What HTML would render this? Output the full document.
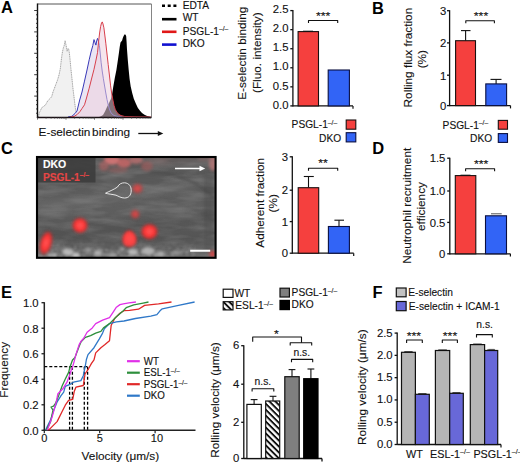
<!DOCTYPE html>
<html><head><meta charset="utf-8"><style>html,body{margin:0;padding:0;background:#fff;}svg{display:block;}</style></head><body>
<svg width="520" height="464" viewBox="0 0 520 464" font-family='"Liberation Sans", sans-serif'>
<rect width="520" height="464" fill="#fff"/>
<text transform="translate(1,13.3) scale(1.03,1)" font-size="16" font-weight="bold" fill="#000">A</text>
<text transform="translate(372,13.6) scale(1.03,1)" font-size="16" font-weight="bold" fill="#000">B</text>
<text transform="translate(1,153.7) scale(1.03,1)" font-size="16" font-weight="bold" fill="#000">C</text>
<text transform="translate(372.3,154) scale(1.03,1)" font-size="16" font-weight="bold" fill="#000">D</text>
<text transform="translate(1,298) scale(1.03,1)" font-size="16" font-weight="bold" fill="#000">E</text>
<text transform="translate(372.5,298) scale(1.03,1)" font-size="16" font-weight="bold" fill="#000">F</text>
<polygon points="38.5,117.0 39.5,112.0 40.0,111.4 41.9,107.5 43.5,106.5 45.8,104.6 47.0,102.0 48.7,99.8 50.0,98.5 51.6,96.9 53.0,92.0 54.5,88.1 56.0,84.0 57.4,80.4 59.0,75.0 60.3,68.8 61.3,60.0 62.2,53.3 63.3,48.0 64.2,45.5 65.1,40.7 66.1,45.5 67.1,51.3 68.0,48.4 68.7,49.0 69.4,53.3 70.1,60.0 70.9,68.8 71.9,78.0 72.9,88.1 73.9,96.0 74.8,103.6 75.8,111.4 76.8,115.3 78.0,117.0" fill="#f1f1f1" stroke="none"/>
<polyline points="38.5,117.0 39.5,112.0 40.0,111.4 41.9,107.5 43.5,106.5 45.8,104.6 47.0,102.0 48.7,99.8 50.0,98.5 51.6,96.9 53.0,92.0 54.5,88.1 56.0,84.0 57.4,80.4 59.0,75.0 60.3,68.8 61.3,60.0 62.2,53.3 63.3,48.0 64.2,45.5 65.1,40.7 66.1,45.5 67.1,51.3 68.0,48.4 68.7,49.0 69.4,53.3 70.1,60.0 70.9,68.8 71.9,78.0 72.9,88.1 73.9,96.0 74.8,103.6 75.8,111.4 76.8,115.3 78.0,117.0" fill="none" stroke="#9a9a9a" stroke-width="0.9" stroke-dasharray="1.2,0.6"/>
<polygon points="68.0,117.0 71.9,116.3 75.0,113.5 77.0,111.0 79.7,100.0 82.0,92.0 84.5,81.1 87.0,70.0 89.2,59.8 91.0,52.0 92.8,45.6 94.0,39.6 95.0,42.5 95.9,45.1 96.7,41.0 97.5,38.4 98.5,41.0 99.4,45.6 100.2,53.0 101.1,62.2 102.2,71.0 103.4,78.8 104.6,86.0 105.8,93.0 107.0,99.5 108.2,104.8 109.4,109.0 110.6,112.0 112.0,114.0 114.1,115.5 118.0,116.6 122.0,117.0" fill="#ebe6f3" stroke="none"/>
<polygon points="99.0,117.0 101.0,116.2 103.0,115.0 105.0,111.5 107.0,107.0 109.0,103.0 111.0,98.7 112.3,93.0 113.3,86.4 114.8,78.0 116.4,70.0 117.6,62.0 118.8,53.7 119.7,47.0 120.5,42.4 121.3,41.5 122.1,40.4 122.8,38.0 123.5,36.3 124.3,34.8 125.0,34.2 125.7,35.0 126.2,36.3 126.6,42.0 127.0,49.6 127.8,60.0 128.7,70.0 129.6,79.0 130.7,86.4 132.2,93.0 133.8,98.7 135.8,103.5 137.9,107.9 140.0,110.8 142.0,113.0 144.5,114.8 147.1,116.1 150.0,116.8 151.0,117.0" fill="#000" stroke="none"/>
<polyline points="68.0,117.0 71.9,116.3 75.0,113.5 77.0,111.0 79.7,100.0 82.0,92.0 84.5,81.1 87.0,70.0 89.2,59.8 91.0,52.0 92.8,45.6 94.0,39.6 95.0,42.5 95.9,45.1 96.7,41.0 97.5,38.4 98.5,41.0 99.4,45.6 100.2,53.0 101.1,62.2 102.2,71.0 103.4,78.8 104.6,86.0 105.8,93.0 107.0,99.5 108.2,104.8 109.4,109.0 110.6,112.0 112.0,114.0 114.1,115.5 118.0,116.6 122.0,117.0" fill="none" stroke="#3838b8" stroke-width="1.0"/>
<polygon points="70.0,117.0 74.0,116.5 77.4,114.3 80.0,111.5 82.0,108.5 84.5,104.8 86.5,98.0 89.2,88.2 91.5,79.0 94.0,69.3 96.0,60.0 97.5,52.7 98.7,40.8 99.6,33.0 100.6,26.6 101.5,23.0 102.3,21.9 103.0,24.0 103.9,27.8 104.8,35.0 105.8,43.2 107.0,54.0 108.2,64.5 109.4,75.0 110.6,85.9 111.8,94.0 112.9,100.1 114.0,105.5 115.3,109.6 117.0,112.5 118.9,114.3 121.0,115.6 124.8,116.5 135.0,116.8 151.0,117.0" fill="#ecd0de" fill-opacity="0.55" stroke="none"/>
<polyline points="70.0,117.0 74.0,116.5 77.4,114.3 80.0,111.5 82.0,108.5 84.5,104.8 86.5,98.0 89.2,88.2 91.5,79.0 94.0,69.3 96.0,60.0 97.5,52.7 98.7,40.8 99.6,33.0 100.6,26.6 101.5,23.0 102.3,21.9 103.0,24.0 103.9,27.8 104.8,35.0 105.8,43.2 107.0,54.0 108.2,64.5 109.4,75.0 110.6,85.9 111.8,94.0 112.9,100.1 114.0,105.5 115.3,109.6 117.0,112.5 118.9,114.3 121.0,115.6 124.8,116.5 135.0,116.8 151.0,117.0" fill="none" stroke="#d8404c" stroke-width="1.0"/>
<line x1="37.5" y1="4.0" x2="151.5" y2="4.0" stroke="#555" stroke-width="1.0"/>
<line x1="151.5" y1="4.0" x2="151.5" y2="117.5" stroke="#777" stroke-width="0.9"/>
<line x1="37.5" y1="3.5" x2="37.5" y2="118.1" stroke="#111" stroke-width="1.4"/>
<line x1="36.9" y1="117.5" x2="151.5" y2="117.5" stroke="#1a1014" stroke-width="1.4"/>
<line x1="34.2" y1="10.5" x2="37.5" y2="10.5" stroke="#222" stroke-width="0.9"/>
<line x1="36.0" y1="14.78" x2="37.5" y2="14.78" stroke="#222" stroke-width="0.9"/>
<line x1="36.0" y1="19.06" x2="37.5" y2="19.06" stroke="#222" stroke-width="0.9"/>
<line x1="36.0" y1="23.339999999999996" x2="37.5" y2="23.339999999999996" stroke="#222" stroke-width="0.9"/>
<line x1="36.0" y1="27.619999999999997" x2="37.5" y2="27.619999999999997" stroke="#222" stroke-width="0.9"/>
<line x1="34.2" y1="31.9" x2="37.5" y2="31.9" stroke="#222" stroke-width="0.9"/>
<line x1="36.0" y1="36.18" x2="37.5" y2="36.18" stroke="#222" stroke-width="0.9"/>
<line x1="36.0" y1="40.459999999999994" x2="37.5" y2="40.459999999999994" stroke="#222" stroke-width="0.9"/>
<line x1="36.0" y1="44.739999999999995" x2="37.5" y2="44.739999999999995" stroke="#222" stroke-width="0.9"/>
<line x1="36.0" y1="49.019999999999996" x2="37.5" y2="49.019999999999996" stroke="#222" stroke-width="0.9"/>
<line x1="34.2" y1="53.3" x2="37.5" y2="53.3" stroke="#222" stroke-width="0.9"/>
<line x1="36.0" y1="57.58" x2="37.5" y2="57.58" stroke="#222" stroke-width="0.9"/>
<line x1="36.0" y1="61.86" x2="37.5" y2="61.86" stroke="#222" stroke-width="0.9"/>
<line x1="36.0" y1="66.14" x2="37.5" y2="66.14" stroke="#222" stroke-width="0.9"/>
<line x1="36.0" y1="70.41999999999999" x2="37.5" y2="70.41999999999999" stroke="#222" stroke-width="0.9"/>
<line x1="34.2" y1="74.69999999999999" x2="37.5" y2="74.69999999999999" stroke="#222" stroke-width="0.9"/>
<line x1="36.0" y1="78.97999999999999" x2="37.5" y2="78.97999999999999" stroke="#222" stroke-width="0.9"/>
<line x1="36.0" y1="83.25999999999999" x2="37.5" y2="83.25999999999999" stroke="#222" stroke-width="0.9"/>
<line x1="36.0" y1="87.53999999999999" x2="37.5" y2="87.53999999999999" stroke="#222" stroke-width="0.9"/>
<line x1="36.0" y1="91.82" x2="37.5" y2="91.82" stroke="#222" stroke-width="0.9"/>
<line x1="34.2" y1="96.1" x2="37.5" y2="96.1" stroke="#222" stroke-width="0.9"/>
<line x1="36.0" y1="100.38" x2="37.5" y2="100.38" stroke="#222" stroke-width="0.9"/>
<line x1="36.0" y1="104.66" x2="37.5" y2="104.66" stroke="#222" stroke-width="0.9"/>
<line x1="36.0" y1="108.94" x2="37.5" y2="108.94" stroke="#222" stroke-width="0.9"/>
<line x1="36.0" y1="113.22" x2="37.5" y2="113.22" stroke="#222" stroke-width="0.9"/>
<line x1="37.5" y1="117.5" x2="37.5" y2="119.7" stroke="#444" stroke-width="0.7"/>
<line x1="46.079354876423466" y1="117.5" x2="46.079354876423466" y2="118.7" stroke="#444" stroke-width="0.7"/>
<line x1="51.09795575951038" y1="117.5" x2="51.09795575951038" y2="118.7" stroke="#444" stroke-width="0.7"/>
<line x1="54.65870975284693" y1="117.5" x2="54.65870975284693" y2="118.7" stroke="#444" stroke-width="0.7"/>
<line x1="57.420645123576534" y1="117.5" x2="57.420645123576534" y2="118.7" stroke="#444" stroke-width="0.7"/>
<line x1="59.67731063593384" y1="117.5" x2="59.67731063593384" y2="118.7" stroke="#444" stroke-width="0.7"/>
<line x1="61.58529414040632" y1="117.5" x2="61.58529414040632" y2="118.7" stroke="#444" stroke-width="0.7"/>
<line x1="63.23806462927039" y1="117.5" x2="63.23806462927039" y2="118.7" stroke="#444" stroke-width="0.7"/>
<line x1="64.69591151902075" y1="117.5" x2="64.69591151902075" y2="118.7" stroke="#444" stroke-width="0.7"/>
<line x1="66.0" y1="117.5" x2="66.0" y2="119.7" stroke="#444" stroke-width="0.7"/>
<line x1="74.57935487642347" y1="117.5" x2="74.57935487642347" y2="118.7" stroke="#444" stroke-width="0.7"/>
<line x1="79.59795575951038" y1="117.5" x2="79.59795575951038" y2="118.7" stroke="#444" stroke-width="0.7"/>
<line x1="83.15870975284693" y1="117.5" x2="83.15870975284693" y2="118.7" stroke="#444" stroke-width="0.7"/>
<line x1="85.92064512357653" y1="117.5" x2="85.92064512357653" y2="118.7" stroke="#444" stroke-width="0.7"/>
<line x1="88.17731063593385" y1="117.5" x2="88.17731063593385" y2="118.7" stroke="#444" stroke-width="0.7"/>
<line x1="90.08529414040632" y1="117.5" x2="90.08529414040632" y2="118.7" stroke="#444" stroke-width="0.7"/>
<line x1="91.73806462927038" y1="117.5" x2="91.73806462927038" y2="118.7" stroke="#444" stroke-width="0.7"/>
<line x1="93.19591151902075" y1="117.5" x2="93.19591151902075" y2="118.7" stroke="#444" stroke-width="0.7"/>
<line x1="94.5" y1="117.5" x2="94.5" y2="119.7" stroke="#444" stroke-width="0.7"/>
<line x1="103.07935487642347" y1="117.5" x2="103.07935487642347" y2="118.7" stroke="#444" stroke-width="0.7"/>
<line x1="108.09795575951038" y1="117.5" x2="108.09795575951038" y2="118.7" stroke="#444" stroke-width="0.7"/>
<line x1="111.65870975284693" y1="117.5" x2="111.65870975284693" y2="118.7" stroke="#444" stroke-width="0.7"/>
<line x1="114.42064512357653" y1="117.5" x2="114.42064512357653" y2="118.7" stroke="#444" stroke-width="0.7"/>
<line x1="116.67731063593385" y1="117.5" x2="116.67731063593385" y2="118.7" stroke="#444" stroke-width="0.7"/>
<line x1="118.58529414040632" y1="117.5" x2="118.58529414040632" y2="118.7" stroke="#444" stroke-width="0.7"/>
<line x1="120.23806462927038" y1="117.5" x2="120.23806462927038" y2="118.7" stroke="#444" stroke-width="0.7"/>
<line x1="121.69591151902075" y1="117.5" x2="121.69591151902075" y2="118.7" stroke="#444" stroke-width="0.7"/>
<line x1="123.0" y1="117.5" x2="123.0" y2="119.7" stroke="#444" stroke-width="0.7"/>
<line x1="131.57935487642345" y1="117.5" x2="131.57935487642345" y2="118.7" stroke="#444" stroke-width="0.7"/>
<line x1="136.59795575951037" y1="117.5" x2="136.59795575951037" y2="118.7" stroke="#444" stroke-width="0.7"/>
<line x1="140.15870975284693" y1="117.5" x2="140.15870975284693" y2="118.7" stroke="#444" stroke-width="0.7"/>
<line x1="142.92064512357655" y1="117.5" x2="142.92064512357655" y2="118.7" stroke="#444" stroke-width="0.7"/>
<line x1="145.17731063593385" y1="117.5" x2="145.17731063593385" y2="118.7" stroke="#444" stroke-width="0.7"/>
<line x1="147.08529414040632" y1="117.5" x2="147.08529414040632" y2="118.7" stroke="#444" stroke-width="0.7"/>
<line x1="148.73806462927038" y1="117.5" x2="148.73806462927038" y2="118.7" stroke="#444" stroke-width="0.7"/>
<line x1="150.19591151902077" y1="117.5" x2="150.19591151902077" y2="118.7" stroke="#444" stroke-width="0.7"/>
<line x1="162" y1="5.7" x2="176.5" y2="5.7" stroke="#000" stroke-width="2.6" stroke-dasharray="3,2.7"/>
<line x1="162" y1="19.2" x2="176.5" y2="19.2" stroke="#000" stroke-width="2.6"/>
<line x1="162" y1="31.8" x2="176.5" y2="31.8" stroke="#e01818" stroke-width="2.6"/>
<line x1="162" y1="44.6" x2="176.5" y2="44.6" stroke="#1010d0" stroke-width="2.6"/>
<text transform="translate(182.7,8.8) scale(1.0,1)" font-size="10.2" fill="#111" stroke="#111" stroke-width="0.12">EDTA</text>
<text transform="translate(182.7,21.4) scale(1.0,1)" font-size="10.2" fill="#111" stroke="#111" stroke-width="0.12">WT</text>
<text transform="translate(182.7,34.5) scale(1.0,1)" font-size="10.2" fill="#111" stroke="#111" stroke-width="0.12">PSGL-1<tspan font-size="0.66em" dy="-0.47em">–/–</tspan></text>
<text transform="translate(182.7,47.2) scale(1.0,1)" font-size="10.2" fill="#111" stroke="#111" stroke-width="0.12">DKO</text>
<text transform="translate(38.6,135.6) scale(1.0,1)" font-size="11.8" fill="#111" stroke="#111" stroke-width="0.12" word-spacing="-1.6">E-selectin binding</text>
<line x1="138.3" y1="133.5" x2="159" y2="133.5" stroke="#111" stroke-width="1.3"/>
<polygon points="157.8,131.1 163.3,133.5 157.8,135.9" fill="#111"/>
<line x1="292.9" y1="10.100000000000009" x2="292.9" y2="106.5" stroke="#111" stroke-width="1.3"/>
<line x1="290.29999999999995" y1="105.9" x2="292.9" y2="105.9" stroke="#111" stroke-width="1.3"/>
<text transform="translate(288.5,108.6) scale(1.0,1)" font-size="11.3" text-anchor="end" fill="#111" stroke="#111" stroke-width="0.12">0.0</text>
<line x1="290.29999999999995" y1="86.84" x2="292.9" y2="86.84" stroke="#111" stroke-width="1.3"/>
<text transform="translate(288.5,89.54) scale(1.0,1)" font-size="11.3" text-anchor="end" fill="#111" stroke="#111" stroke-width="0.12">0.5</text>
<line x1="290.29999999999995" y1="67.78" x2="292.9" y2="67.78" stroke="#111" stroke-width="1.3"/>
<text transform="translate(288.5,70.48) scale(1.0,1)" font-size="11.3" text-anchor="end" fill="#111" stroke="#111" stroke-width="0.12">1.0</text>
<line x1="290.29999999999995" y1="48.72000000000001" x2="292.9" y2="48.72000000000001" stroke="#111" stroke-width="1.3"/>
<text transform="translate(288.5,51.42) scale(1.0,1)" font-size="11.3" text-anchor="end" fill="#111" stroke="#111" stroke-width="0.12">1.5</text>
<line x1="290.29999999999995" y1="29.66000000000001" x2="292.9" y2="29.66000000000001" stroke="#111" stroke-width="1.3"/>
<text transform="translate(288.5,32.36) scale(1.0,1)" font-size="11.3" text-anchor="end" fill="#111" stroke="#111" stroke-width="0.12">2.0</text>
<line x1="290.29999999999995" y1="10.600000000000009" x2="292.9" y2="10.600000000000009" stroke="#111" stroke-width="1.3"/>
<text transform="translate(288.5,13.3) scale(1.0,1)" font-size="11.3" text-anchor="end" fill="#111" stroke="#111" stroke-width="0.12">2.5</text>
<line x1="292.9" y1="105.9" x2="353" y2="105.9" stroke="#111" stroke-width="1.3"/>
<line x1="353" y1="105.9" x2="353" y2="108.7" stroke="#111" stroke-width="1.2"/>
<rect x="298.1" y="31.6" width="20.4" height="74.30000000000001" fill="#f5403e" stroke="#1a1010" stroke-width="1.1"/>
<rect x="328.2" y="70.0" width="21.2" height="35.900000000000006" fill="#3264f6" stroke="#0a0f40" stroke-width="1.1"/>
<line x1="303" y1="31.2" x2="313" y2="31.2" stroke="#111" stroke-width="1.0"/>
<polyline points="308.50,23.00 308.50,20.50 337.70,20.50 337.70,23.00" fill="none" stroke="#111" stroke-width="1.1" stroke-linejoin="round"/>
<text transform="translate(323.2,19.8) scale(1.12,1)" font-size="11" text-anchor="middle" fill="#111" stroke="#111" stroke-width="0.12">***</text>
<text transform="translate(245.8,53.3) rotate(-90) scale(1.0,1)" font-size="11.8" text-anchor="middle" fill="#111" stroke="#111" stroke-width="0.12">E-selectin binding</text>
<text transform="translate(260.6,52.7) rotate(-90) scale(1.0,1)" font-size="11.8" text-anchor="middle" fill="#111" stroke="#111" stroke-width="0.12">(Fluo. intensity)</text>
<text transform="translate(337.2,128.3) scale(1.0,1)" font-size="10.2" text-anchor="end" fill="#111" stroke="#111" stroke-width="0.12">PSGL-1<tspan font-size="0.66em" dy="-0.47em">–/–</tspan></text>
<text transform="translate(341.2,141.5) scale(1.0,1)" font-size="10.2" text-anchor="end" fill="#111" stroke="#111" stroke-width="0.12">DKO</text>
<rect x="346.2" y="120.0" width="9.6" height="9.2" fill="#f5403e" stroke="#1a1010" stroke-width="1.1"/>
<rect x="346.2" y="132.7" width="9.6" height="9.2" fill="#3264f6" stroke="#0a0f40" stroke-width="1.1"/>
<line x1="449.6" y1="10.2" x2="449.6" y2="106.19999999999999" stroke="#111" stroke-width="1.3"/>
<line x1="447.0" y1="105.6" x2="449.6" y2="105.6" stroke="#111" stroke-width="1.3"/>
<text transform="translate(446.2,110.0) scale(1.0,1)" font-size="11.3" text-anchor="end" fill="#111" stroke="#111" stroke-width="0.12">0</text>
<line x1="447.0" y1="75.2" x2="449.6" y2="75.2" stroke="#111" stroke-width="1.3"/>
<text transform="translate(446.2,79.6) scale(1.0,1)" font-size="11.3" text-anchor="end" fill="#111" stroke="#111" stroke-width="0.12">1</text>
<line x1="447.0" y1="42.9" x2="449.6" y2="42.9" stroke="#111" stroke-width="1.3"/>
<text transform="translate(446.2,47.3) scale(1.0,1)" font-size="11.3" text-anchor="end" fill="#111" stroke="#111" stroke-width="0.12">2</text>
<line x1="447.0" y1="10.7" x2="449.6" y2="10.7" stroke="#111" stroke-width="1.3"/>
<text transform="translate(446.2,15.1) scale(1.0,1)" font-size="11.3" text-anchor="end" fill="#111" stroke="#111" stroke-width="0.12">3</text>
<line x1="449.6" y1="105.6" x2="510.5" y2="105.6" stroke="#111" stroke-width="1.3"/>
<line x1="510.5" y1="105.6" x2="510.5" y2="108.39999999999999" stroke="#111" stroke-width="1.2"/>
<line x1="465.6" y1="40.7" x2="465.6" y2="30.6" stroke="#111" stroke-width="1.1"/>
<line x1="461" y1="30.6" x2="470.5" y2="30.6" stroke="#111" stroke-width="1.1"/>
<line x1="496.1" y1="83.9" x2="496.1" y2="79.4" stroke="#111" stroke-width="1.1"/>
<line x1="490.5" y1="79.4" x2="501.5" y2="79.4" stroke="#111" stroke-width="1.1"/>
<rect x="455.6" y="40.7" width="19.9" height="64.89999999999999" fill="#f5403e" stroke="#1a1010" stroke-width="1.1"/>
<rect x="485.8" y="83.9" width="20.8" height="21.69999999999999" fill="#3264f6" stroke="#0a0f40" stroke-width="1.1"/>
<polyline points="465.80,23.30 465.80,20.80 494.40,20.80 494.40,23.30" fill="none" stroke="#111" stroke-width="1.1" stroke-linejoin="round"/>
<text transform="translate(481,19.9) scale(1.12,1)" font-size="11" text-anchor="middle" fill="#111" stroke="#111" stroke-width="0.12">***</text>
<text transform="translate(411.5,57.6) rotate(-90) scale(1.0,1)" font-size="11.8" text-anchor="middle" fill="#111" stroke="#111" stroke-width="0.12">Rolling flux fraction</text>
<text transform="translate(426.0,59.2) rotate(-90) scale(1.0,1)" font-size="11.8" text-anchor="middle" fill="#111" stroke="#111" stroke-width="0.12">(%)</text>
<text transform="translate(488.2,128.6) scale(1.0,1)" font-size="10.2" text-anchor="end" fill="#111" stroke="#111" stroke-width="0.12">PSGL-1<tspan font-size="0.66em" dy="-0.47em">–/–</tspan></text>
<text transform="translate(492.2,142.1) scale(1.0,1)" font-size="10.2" text-anchor="end" fill="#111" stroke="#111" stroke-width="0.12">DKO</text>
<rect x="498.3" y="120.4" width="9.2" height="8.8" fill="#f5403e" stroke="#1a1010" stroke-width="1.1"/>
<rect x="498.3" y="133.6" width="9.2" height="8.8" fill="#3264f6" stroke="#0a0f40" stroke-width="1.1"/>
<defs>
<filter id="b2" x="-50%" y="-50%" width="200%" height="200%"><feGaussianBlur stdDeviation="1.4"/></filter>
<filter id="b1" x="-50%" y="-50%" width="200%" height="200%"><feGaussianBlur stdDeviation="0.7"/></filter>
<filter id="b4" x="-50%" y="-50%" width="200%" height="200%"><feGaussianBlur stdDeviation="3.0"/></filter>
<filter id="noise" x="0" y="0" width="100%" height="100%">
 <feTurbulence type="fractalNoise" baseFrequency="0.03 0.13" numOctaves="3" seed="7"/>
 <feColorMatrix type="matrix" values="0 0 0 0 0.5  0 0 0 0 0.5  0 0 0 0 0.5  0 0 1.6 0 -0.55"/>
</filter>
<filter id="noise2" x="0" y="0" width="100%" height="100%">
 <feTurbulence type="fractalNoise" baseFrequency="0.35 0.5" numOctaves="2" seed="11"/>
 <feColorMatrix type="matrix" values="0 0 0 0 1  0 0 0 0 1  0 0 0 0 1  0 0 2.6 0 -1.15"/>
</filter>
<filter id="noise3" x="0" y="0" width="100%" height="100%">
 <feTurbulence type="fractalNoise" baseFrequency="0.3 0.45" numOctaves="2" seed="5"/>
 <feColorMatrix type="matrix" values="0 0 0 0 0  0 0 0 0 0  0 0 0 0 0  0 0 2.4 0 -1.05"/>
</filter>
<radialGradient id="rb">
 <stop offset="0" stop-color="#ff5a5a"/>
 <stop offset="0.55" stop-color="#ff3434"/>
 <stop offset="0.8" stop-color="#d82a2a" stop-opacity="0.8"/>
 <stop offset="1" stop-color="#8a2a2a" stop-opacity="0"/>
</radialGradient>
<radialGradient id="rbs">
 <stop offset="0" stop-color="#f04a4a" stop-opacity="0.9"/>
 <stop offset="0.6" stop-color="#d83a3a" stop-opacity="0.7"/>
 <stop offset="1" stop-color="#8a3a3a" stop-opacity="0"/>
</radialGradient>
<linearGradient id="bg" x1="0" y1="0" x2="0" y2="1">
 <stop offset="0" stop-color="#575757"/>
 <stop offset="0.2" stop-color="#585858"/>
 <stop offset="0.35" stop-color="#5c5c5c"/>
 <stop offset="0.5" stop-color="#5f5f5f"/>
 <stop offset="0.65" stop-color="#595959"/>
 <stop offset="0.8" stop-color="#545454"/>
 <stop offset="0.9" stop-color="#5a5a5a"/>
 <stop offset="1" stop-color="#6c6c6c"/>
</linearGradient>
<linearGradient id="botfade" x1="0" y1="0" x2="0" y2="1">
 <stop offset="0" stop-color="#fff" stop-opacity="0"/>
 <stop offset="1" stop-color="#fff" stop-opacity="1"/>
</linearGradient>
<mask id="botmask"><rect x="36" y="238" width="160" height="20" fill="url(#botfade)"/></mask>
<filter id="b09" x="-20%" y="-20%" width="140%" height="140%"><feGaussianBlur stdDeviation="0.9"/></filter>
<clipPath id="cimg"><rect x="37" y="157" width="178.6" height="100.8"/></clipPath>
</defs>
<g clip-path="url(#cimg)">
<rect x="36" y="156" width="181" height="103" fill="url(#bg)"/>
<rect x="36" y="156" width="181" height="103" filter="url(#noise)" opacity="0.3"/>
<path d="M37,205 C90,200 150,196 216,178" stroke="#7a7a7a" stroke-width="7" fill="none" opacity="0.35" filter="url(#b4)"/>
<path d="M37,236 C90,232 150,226 216,214" stroke="#4a4a4a" stroke-width="6" fill="none" opacity="0.35" filter="url(#b4)"/>
<path d="M150,172 C175,172 200,182 216,200" stroke="#444" stroke-width="2.5" fill="none" opacity="0.5" filter="url(#b2)"/>
<path d="M120,200 C150,196 185,200 216,222" stroke="#484848" stroke-width="2.5" fill="none" opacity="0.4" filter="url(#b2)"/>
<rect x="204" y="175" width="9" height="75" fill="#444" opacity="0.35" filter="url(#b2)"/>
<ellipse cx="112" cy="160" rx="8" ry="5" fill="#e07878" opacity="0.85" filter="url(#b2)"/>
<ellipse cx="124" cy="163" rx="7" ry="5" fill="#d06868" opacity="0.8" filter="url(#b2)"/>
<ellipse cx="104" cy="166" rx="5" ry="5" fill="#b86464" opacity="0.6" filter="url(#b2)"/>
<ellipse cx="136" cy="160" rx="7" ry="4" fill="#c87070" opacity="0.7" filter="url(#b2)"/>
<ellipse cx="147" cy="166" rx="6" ry="5" fill="#a85c5c" opacity="0.6" filter="url(#b2)"/>
<ellipse cx="118" cy="170" rx="10" ry="3" fill="#a06060" opacity="0.5" filter="url(#b2)"/>
<ellipse cx="160" cy="160" rx="12" ry="4" fill="#8a6a6a" opacity="0.5" filter="url(#b4)"/>
<ellipse cx="185" cy="160" rx="15" ry="4" fill="#7a6a6a" opacity="0.4" filter="url(#b4)"/>
<ellipse cx="213" cy="163" rx="4" ry="8" fill="#c07878" opacity="0.75" filter="url(#b2)"/>
<ellipse cx="205" cy="159" rx="8" ry="3" fill="#907070" opacity="0.5" filter="url(#b2)"/>
<rect x="37" y="157" width="58.5" height="25.5" fill="#383838" opacity="0.8"/>
<g mask="url(#botmask)"><g filter="url(#b09)"><rect x="36" y="236" width="160" height="22" filter="url(#noise2)" opacity="0.55"/><rect x="36" y="236" width="160" height="22" filter="url(#noise3)" opacity="0.45"/></g></g>
<ellipse cx="68" cy="252" rx="6" ry="3.5" fill="#d8d8d8" opacity="0.7" filter="url(#b2)"/>
<ellipse cx="76" cy="255" rx="4" ry="2.5" fill="#e8e8e8" opacity="0.7" filter="url(#b2)"/>
<ellipse cx="98" cy="253" rx="4" ry="3" fill="#c8c8c8" opacity="0.7" filter="url(#b2)"/>
<ellipse cx="133" cy="252" rx="5" ry="3.5" fill="#d8d8d8" opacity="0.7" filter="url(#b2)"/>
<ellipse cx="148" cy="251" rx="7" ry="4" fill="#d0d0d0" opacity="0.7" filter="url(#b2)"/>
<ellipse cx="160" cy="254" rx="5" ry="2.5" fill="#c8c8c8" opacity="0.7" filter="url(#b2)"/>
<ellipse cx="112" cy="255" rx="4" ry="2" fill="#b8b8b8" opacity="0.7" filter="url(#b2)"/>
<ellipse cx="52" cy="255" rx="5" ry="2" fill="#c0c0c0" opacity="0.7" filter="url(#b2)"/>
<ellipse cx="88" cy="250" rx="3" ry="2" fill="#aaa" opacity="0.7" filter="url(#b2)"/>
<ellipse cx="122" cy="249" rx="3" ry="2" fill="#aaa" opacity="0.7" filter="url(#b2)"/>
<ellipse cx="176" cy="253" rx="4" ry="2" fill="#a0a0a0" opacity="0.7" filter="url(#b2)"/>
<ellipse cx="137.5" cy="188.5" rx="6.5" ry="6" fill="url(#rbs)" filter="url(#b2)"/>
<ellipse cx="80" cy="225.4" rx="8.5" ry="8.5" fill="url(#rb)" filter="url(#b2)"/>
<ellipse cx="135.2" cy="214.2" rx="5.5" ry="5.5" fill="url(#rbs)" filter="url(#b2)"/>
<ellipse cx="149.4" cy="231.6" rx="9.2" ry="8.6" fill="url(#rb)" filter="url(#b2)"/>
<ellipse cx="212.5" cy="254" rx="4.5" ry="4.5" fill="url(#rbs)" filter="url(#b2)"/>
<path d="M129.5,230 C133,231 137,237 137.5,241 C138,245.5 134,248 129,248 C123.5,248 121,245 121.5,241 C122,236.5 126,229.5 129.5,230 Z" fill="url(#rb)" filter="url(#b2)" transform="translate(0,-0.5)"/>
<path d="M129.5,231.5 C132.5,232.5 135.5,237.5 135.8,241 C136,244.5 133,246.3 129.2,246.3 C125,246.3 123.2,244 123.5,241 C124,237.5 127,231 129.5,231.5 Z" fill="#ff4a4a" opacity="0.7" filter="url(#b2)"/>
<ellipse cx="46" cy="243" rx="6.5" ry="13" transform="rotate(15 46 243)" fill="url(#rb)" filter="url(#b2)"/>
<path d="M105.5,193.2 C110,191 114,189.5 117.5,187 C119,184 121.5,182.8 124.5,182.8 C129,183 131.5,186.5 131.2,191 C131,195.5 128.5,198 124.5,198 C121,198 118.5,196.2 116,195.2 C112,194.2 108,194 105.5,193.2 Z" fill="none" stroke="#f4f4f4" stroke-width="0.9"/>
<line x1="175" y1="168.5" x2="201" y2="168.5" stroke="#fff" stroke-width="1.6"/>
<polygon points="199.5,165.8 205.2,168.5 199.5,171.2" fill="#fff"/>
<line x1="190.2" y1="250.7" x2="210.2" y2="250.7" stroke="#fff" stroke-width="2.0"/>
<text transform="translate(42.9,167.6) scale(1.0,1)" font-size="10.5" font-weight="bold" fill="#fff" stroke="#fff" stroke-width="0.12">DKO</text>
<text transform="translate(42.9,180.5) scale(1.0,1)" font-size="10.2" font-weight="bold" fill="#e64646" stroke="#e64646" stroke-width="0.12">PSGL-1<tspan font-size="0.66em" dy="-0.47em">–/–</tspan></text>
</g>
<rect x="37" y="157" width="178.6" height="100.8" fill="none" stroke="#000" stroke-width="2.1"/>
<line x1="292.3" y1="156.3" x2="292.3" y2="253.79999999999998" stroke="#111" stroke-width="1.3"/>
<line x1="289.7" y1="253.2" x2="292.3" y2="253.2" stroke="#111" stroke-width="1.3"/>
<text transform="translate(288.0,257.4) scale(1.0,1)" font-size="11.3" text-anchor="end" fill="#111" stroke="#111" stroke-width="0.12">0</text>
<line x1="289.7" y1="221.6" x2="292.3" y2="221.6" stroke="#111" stroke-width="1.3"/>
<text transform="translate(288.0,225.8) scale(1.0,1)" font-size="11.3" text-anchor="end" fill="#111" stroke="#111" stroke-width="0.12">1</text>
<line x1="289.7" y1="190.2" x2="292.3" y2="190.2" stroke="#111" stroke-width="1.3"/>
<text transform="translate(288.0,194.4) scale(1.0,1)" font-size="11.3" text-anchor="end" fill="#111" stroke="#111" stroke-width="0.12">2</text>
<line x1="289.7" y1="156.8" x2="292.3" y2="156.8" stroke="#111" stroke-width="1.3"/>
<text transform="translate(288.0,161.0) scale(1.0,1)" font-size="11.3" text-anchor="end" fill="#111" stroke="#111" stroke-width="0.12">3</text>
<line x1="292.3" y1="253.2" x2="353.7" y2="253.2" stroke="#111" stroke-width="1.2"/>
<line x1="353.7" y1="253.2" x2="353.7" y2="256.0" stroke="#111" stroke-width="1.2"/>
<line x1="308.5" y1="187.7" x2="308.5" y2="176.5" stroke="#111" stroke-width="1.1"/>
<line x1="303.8" y1="176.5" x2="313.8" y2="176.5" stroke="#111" stroke-width="1.1"/>
<line x1="339" y1="226.5" x2="339" y2="220.2" stroke="#111" stroke-width="1.1"/>
<line x1="334.4" y1="220.2" x2="344" y2="220.2" stroke="#111" stroke-width="1.1"/>
<rect x="298.2" y="187.7" width="20.5" height="65.5" fill="#f5403e" stroke="#1a1010" stroke-width="1.1"/>
<rect x="328.4" y="226.5" width="21.0" height="26.69999999999999" fill="#3264f6" stroke="#0a0f40" stroke-width="1.1"/>
<polyline points="308.50,170.70 308.50,168.20 337.70,168.20 337.70,170.70" fill="none" stroke="#111" stroke-width="1.1" stroke-linejoin="round"/>
<text transform="translate(323.0,167.4) scale(1.12,1)" font-size="11" text-anchor="middle" fill="#111" stroke="#111" stroke-width="0.12">**</text>
<text transform="translate(263.8,202.8) rotate(-90) scale(1.0,1)" font-size="11.8" text-anchor="middle" fill="#111" stroke="#111" stroke-width="0.12">Adherent fraction</text>
<text transform="translate(277.3,203.3) rotate(-90) scale(1.0,1)" font-size="11.8" text-anchor="middle" fill="#111" stroke="#111" stroke-width="0.12">(%)</text>
<line x1="449.8" y1="157.7" x2="449.8" y2="254.4" stroke="#111" stroke-width="1.3"/>
<line x1="447.2" y1="253.8" x2="449.8" y2="253.8" stroke="#111" stroke-width="1.3"/>
<text transform="translate(445.4,258.0) scale(1.0,1)" font-size="11.3" text-anchor="end" fill="#111" stroke="#111" stroke-width="0.12">0</text>
<line x1="447.2" y1="222.4" x2="449.8" y2="222.4" stroke="#111" stroke-width="1.3"/>
<text transform="translate(445.4,226.6) scale(1.0,1)" font-size="11.3" text-anchor="end" fill="#111" stroke="#111" stroke-width="0.12">0.5</text>
<line x1="447.2" y1="191.0" x2="449.8" y2="191.0" stroke="#111" stroke-width="1.3"/>
<text transform="translate(445.4,195.2) scale(1.0,1)" font-size="11.3" text-anchor="end" fill="#111" stroke="#111" stroke-width="0.12">1.0</text>
<line x1="447.2" y1="158.2" x2="449.8" y2="158.2" stroke="#111" stroke-width="1.3"/>
<text transform="translate(445.4,162.4) scale(1.0,1)" font-size="11.3" text-anchor="end" fill="#111" stroke="#111" stroke-width="0.12">1.5</text>
<line x1="449.8" y1="253.8" x2="510.4" y2="253.8" stroke="#111" stroke-width="1.2"/>
<line x1="510.4" y1="253.8" x2="510.4" y2="256.6" stroke="#111" stroke-width="1.2"/>
<rect x="455.3" y="175.6" width="20.5" height="78.20000000000002" fill="#f5403e" stroke="#1a1010" stroke-width="1.1"/>
<line x1="460.5" y1="175.2" x2="470.5" y2="175.2" stroke="#111" stroke-width="1.0"/>
<line x1="491" y1="213.8" x2="501.7" y2="213.8" stroke="#555" stroke-width="1.0"/>
<rect x="485.5" y="215.8" width="21.0" height="38.0" fill="#3264f6" stroke="#0a0f40" stroke-width="1.1"/>
<polyline points="465.60,171.20 465.60,168.70 494.60,168.70 494.60,171.20" fill="none" stroke="#111" stroke-width="1.1" stroke-linejoin="round"/>
<text transform="translate(481.2,167.8) scale(1.12,1)" font-size="11" text-anchor="middle" fill="#111" stroke="#111" stroke-width="0.12">***</text>
<text transform="translate(410.7,205.8) rotate(-90) scale(1.0,1)" font-size="11.8" text-anchor="middle" fill="#111" stroke="#111" stroke-width="0.12">Neutrophil recruitment</text>
<text transform="translate(424.7,206.5) rotate(-90) scale(1.0,1)" font-size="11.8" text-anchor="middle" fill="#111" stroke="#111" stroke-width="0.12">efficiency</text>
<line x1="44.3" y1="302.20000000000005" x2="44.3" y2="430.90000000000003" stroke="#222" stroke-width="1.5"/>
<line x1="41.5" y1="430.3" x2="44.3" y2="430.3" stroke="#222" stroke-width="1.3"/>
<text transform="translate(38.6,434.8) scale(1.0,1)" font-size="11.3" text-anchor="end" fill="#111" stroke="#111" stroke-width="0.12">0.0</text>
<line x1="41.5" y1="404.78000000000003" x2="44.3" y2="404.78000000000003" stroke="#222" stroke-width="1.3"/>
<text transform="translate(38.6,409.28) scale(1.0,1)" font-size="11.3" text-anchor="end" fill="#111" stroke="#111" stroke-width="0.12">0.2</text>
<line x1="41.5" y1="379.26" x2="44.3" y2="379.26" stroke="#222" stroke-width="1.3"/>
<text transform="translate(38.6,383.76) scale(1.0,1)" font-size="11.3" text-anchor="end" fill="#111" stroke="#111" stroke-width="0.12">0.4</text>
<line x1="41.5" y1="353.74" x2="44.3" y2="353.74" stroke="#222" stroke-width="1.3"/>
<text transform="translate(38.6,358.24) scale(1.0,1)" font-size="11.3" text-anchor="end" fill="#111" stroke="#111" stroke-width="0.12">0.6</text>
<line x1="41.5" y1="328.22" x2="44.3" y2="328.22" stroke="#222" stroke-width="1.3"/>
<text transform="translate(38.6,332.72) scale(1.0,1)" font-size="11.3" text-anchor="end" fill="#111" stroke="#111" stroke-width="0.12">0.8</text>
<line x1="41.5" y1="302.70000000000005" x2="44.3" y2="302.70000000000005" stroke="#222" stroke-width="1.3"/>
<text transform="translate(38.6,307.2) scale(1.0,1)" font-size="11.3" text-anchor="end" fill="#111" stroke="#111" stroke-width="0.12">1.0</text>
<line x1="43.599999999999994" y1="430.3" x2="195.5" y2="430.3" stroke="#222" stroke-width="1.5"/>
<line x1="44.3" y1="430.3" x2="44.3" y2="433.3" stroke="#222" stroke-width="1.2"/>
<line x1="99.69999999999999" y1="430.3" x2="99.69999999999999" y2="433.3" stroke="#222" stroke-width="1.2"/>
<line x1="155.1" y1="430.3" x2="155.1" y2="433.3" stroke="#222" stroke-width="1.2"/>
<text transform="translate(44.3,442.2) scale(1.0,1)" font-size="11" text-anchor="middle" fill="#111" stroke="#111" stroke-width="0.12">0</text>
<text transform="translate(99.69999999999999,442.2) scale(1.0,1)" font-size="11" text-anchor="middle" fill="#111" stroke="#111" stroke-width="0.12">5</text>
<text transform="translate(156.9,442.2) scale(1.0,1)" font-size="11" text-anchor="middle" fill="#111" stroke="#111" stroke-width="0.12">10</text>
<text transform="translate(81.6,459.6) scale(1.0,1)" font-size="11.8" fill="#111" stroke="#111" stroke-width="0.12">Velocity (μm/s)</text>
<text transform="translate(7.9,369.8) rotate(-90) scale(1.0,1)" font-size="11.8" text-anchor="middle" fill="#111" stroke="#111" stroke-width="0.12">Frequency</text>
<line x1="44.3" y1="366.7" x2="88.5" y2="366.7" stroke="#000" stroke-width="1.3" stroke-dasharray="3,2"/>
<line x1="69.6" y1="366.7" x2="69.6" y2="430.3" stroke="#000" stroke-width="1.3" stroke-dasharray="3,2"/>
<line x1="72.4" y1="366.7" x2="72.4" y2="430.3" stroke="#000" stroke-width="1.3" stroke-dasharray="3,2"/>
<line x1="84.3" y1="366.7" x2="84.3" y2="430.3" stroke="#000" stroke-width="1.3" stroke-dasharray="3,2"/>
<line x1="87.6" y1="366.7" x2="87.6" y2="430.3" stroke="#000" stroke-width="1.3" stroke-dasharray="3,2"/>
<polyline points="48.50,430.30 50.60,428.10 57.10,421.60 62.00,411.70 65.30,405.20 68.60,400.30 72.70,399.40 74.30,391.20 76.00,387.10 83.30,385.50 85.00,374.00 88.50,368.80 91.50,363.40 94.00,359.80 95.70,352.90 100.90,347.70 105.00,344.50 109.50,340.80 110.40,332.20 111.20,325.30 114.70,318.40 119.90,313.20 124.00,310.70 129.50,310.30 138.50,309.20 144.60,305.40 158.50,303.80 171.50,302.00" fill="none" stroke="#e02828" stroke-width="1.3" stroke-linejoin="round"/>
<polyline points="45.50,430.30 46.50,428.10 50.60,419.90 53.80,410.10 57.10,401.90 61.20,395.30 63.70,392.10 65.30,386.30 69.40,384.70 73.50,382.20 80.90,380.60 83.30,375.70 85.20,366.50 86.40,359.50 88.00,354.60 94.00,347.70 99.20,339.10 102.60,333.10 104.30,328.80 109.50,323.60 116.40,321.90 124.00,321.00 135.40,318.50 150.80,316.20 156.90,314.60 160.00,310.80 162.30,308.80 178.50,305.40 194.60,302.00" fill="none" stroke="#2f78c8" stroke-width="1.3" stroke-linejoin="round"/>
<polyline points="46.00,430.30 47.30,428.10 50.60,421.60 53.00,410.10 51.00,407.00 53.50,406.20 55.50,403.50 58.80,395.30 62.00,386.30 65.30,379.00 68.60,372.40 70.50,365.50 72.50,360.00 75.00,357.50 77.00,352.00 79.30,346.00 81.10,341.70 85.40,337.40 90.60,335.70 95.70,333.10 100.90,331.30 103.50,327.90 109.50,323.60 116.40,316.70 123.30,310.70 126.20,307.70 133.80,304.90 143.10,303.10 148.50,302.00" fill="none" stroke="#2e8f3c" stroke-width="1.3" stroke-linejoin="round"/>
<polyline points="47.00,430.30 48.10,428.10 52.20,416.70 56.30,401.90 57.90,393.70 60.40,391.20 62.90,388.80 67.00,382.20 69.40,375.70 71.00,370.80 72.70,366.70 74.30,360.90 75.90,354.60 79.30,344.30 81.10,341.20 83.70,338.20 87.10,332.20 92.30,327.90 95.70,323.60 102.60,320.10 109.50,317.60 113.00,312.40 116.40,307.20 120.00,304.60 123.30,303.80 129.00,302.80 135.90,302.00" fill="none" stroke="#e030e8" stroke-width="1.3" stroke-linejoin="round"/>
<line x1="127" y1="361.2" x2="139.8" y2="361.2" stroke="#e030e8" stroke-width="2.2"/>
<text transform="translate(143.7,364.7) scale(0.95,1)" font-size="10.3" fill="#111" stroke="#111" stroke-width="0.12">WT</text>
<line x1="127" y1="372.7" x2="139.8" y2="372.7" stroke="#2e8f3c" stroke-width="2.2"/>
<text transform="translate(143.7,376.2) scale(0.95,1)" font-size="10.3" fill="#111" stroke="#111" stroke-width="0.12">ESL-1<tspan font-size="0.66em" dy="-0.47em">–/–</tspan></text>
<line x1="127" y1="384.2" x2="139.8" y2="384.2" stroke="#e02828" stroke-width="2.2"/>
<text transform="translate(143.7,387.7) scale(0.95,1)" font-size="10.3" fill="#111" stroke="#111" stroke-width="0.12">PSGL-1<tspan font-size="0.66em" dy="-0.47em">–/–</tspan></text>
<line x1="127" y1="395.7" x2="139.8" y2="395.7" stroke="#2f78c8" stroke-width="2.2"/>
<text transform="translate(143.7,399.2) scale(0.95,1)" font-size="10.3" fill="#111" stroke="#111" stroke-width="0.12">DKO</text>
<line x1="243.8" y1="345.2" x2="243.8" y2="459.1" stroke="#111" stroke-width="1.3"/>
<line x1="241.20000000000002" y1="458.5" x2="243.8" y2="458.5" stroke="#111" stroke-width="1.3"/>
<text transform="translate(239.4,462.1) scale(1.0,1)" font-size="11.3" text-anchor="end" fill="#111" stroke="#111" stroke-width="0.12">0</text>
<line x1="241.20000000000002" y1="422.3" x2="243.8" y2="422.3" stroke="#111" stroke-width="1.3"/>
<text transform="translate(239.4,425.9) scale(1.0,1)" font-size="11.3" text-anchor="end" fill="#111" stroke="#111" stroke-width="0.12">2</text>
<line x1="241.20000000000002" y1="384.2" x2="243.8" y2="384.2" stroke="#111" stroke-width="1.3"/>
<text transform="translate(239.4,387.8) scale(1.0,1)" font-size="11.3" text-anchor="end" fill="#111" stroke="#111" stroke-width="0.12">4</text>
<line x1="241.20000000000002" y1="345.7" x2="243.8" y2="345.7" stroke="#111" stroke-width="1.3"/>
<text transform="translate(239.4,349.3) scale(1.0,1)" font-size="11.3" text-anchor="end" fill="#111" stroke="#111" stroke-width="0.12">6</text>
<line x1="243.8" y1="458.5" x2="322" y2="458.5" stroke="#111" stroke-width="1.3"/>
<line x1="322" y1="458.5" x2="322" y2="461.5" stroke="#111" stroke-width="1.3"/>
<defs><pattern id="hatch" patternUnits="userSpaceOnUse" width="4.2" height="4.2" patternTransform="rotate(45)"><rect width="4.2" height="4.2" fill="#fff"/><rect x="0" y="0" width="4.2" height="1.9" fill="#111"/></pattern></defs>
<line x1="254.1" y1="404.4" x2="254.1" y2="399.6" stroke="#111" stroke-width="1.1"/>
<line x1="250.7" y1="399.6" x2="257.5" y2="399.6" stroke="#111" stroke-width="1.1"/>
<line x1="273.0" y1="401.0" x2="273.0" y2="396.3" stroke="#111" stroke-width="1.1"/>
<line x1="269.6" y1="396.3" x2="276.4" y2="396.3" stroke="#111" stroke-width="1.1"/>
<line x1="292.0" y1="376.7" x2="292.0" y2="369.6" stroke="#111" stroke-width="1.1"/>
<line x1="288.6" y1="369.6" x2="295.4" y2="369.6" stroke="#111" stroke-width="1.1"/>
<line x1="310.9" y1="378.7" x2="310.9" y2="369.0" stroke="#111" stroke-width="1.1"/>
<line x1="307.5" y1="369.0" x2="314.29999999999995" y2="369.0" stroke="#111" stroke-width="1.1"/>
<rect x="246.9" y="404.4" width="14.4" height="54.10000000000002" fill="#fff" stroke="#111" stroke-width="1.2"/>
<rect x="265.7" y="401.0" width="14.0" height="57.5" fill="url(#hatch)" stroke="#111" stroke-width="1.2"/>
<rect x="284.8" y="376.7" width="14.4" height="81.80000000000001" fill="#7f7f7f" stroke="#111" stroke-width="1.2"/>
<rect x="303.7" y="378.7" width="14.3" height="79.80000000000001" fill="#000" stroke="#000" stroke-width="1.2"/>
<polyline points="252.70,341.80 252.70,337.00 301.50,337.00 301.50,342.70" fill="none" stroke="#111" stroke-width="1.1" stroke-linejoin="round"/>
<polyline points="290.20,345.40 290.20,342.70 311.70,342.70 311.70,345.40" fill="none" stroke="#111" stroke-width="1.1" stroke-linejoin="round"/>
<text transform="translate(276.5,338.2) scale(1.12,1)" font-size="11" text-anchor="middle" fill="#111" stroke="#111" stroke-width="0.12">*</text>
<polyline points="291.50,362.30 291.50,359.40 312.70,359.40 312.70,362.30" fill="none" stroke="#111" stroke-width="1.1" stroke-linejoin="round"/>
<text transform="translate(301.7,356.2) scale(1.0,1)" font-size="10.3" text-anchor="middle" fill="#111" stroke="#111" stroke-width="0.12">n.s.</text>
<polyline points="252.10,391.50 252.10,388.80 273.80,388.80 273.80,391.50" fill="none" stroke="#111" stroke-width="1.1" stroke-linejoin="round"/>
<text transform="translate(262.9,385.4) scale(1.0,1)" font-size="10.3" text-anchor="middle" fill="#111" stroke="#111" stroke-width="0.12">n.s.</text>
<text transform="translate(218.9,400.0) rotate(-90) scale(1.0,1)" font-size="11.8" text-anchor="middle" fill="#111" stroke="#111" stroke-width="0.12">Rolling velocity (μm/s)</text>
<rect x="223.2" y="289.2" width="9.8" height="8.2" fill="#fff" stroke="#111" stroke-width="1.2"/>
<rect x="223.2" y="301.7" width="9.8" height="8.2" fill="url(#hatch)" stroke="#111" stroke-width="1.2"/>
<rect x="280.0" y="288.2" width="9.4" height="8.8" fill="#7f7f7f" stroke="#111" stroke-width="1.2"/>
<rect x="280.0" y="300.4" width="9.4" height="9.2" fill="#000" stroke="#000" stroke-width="1.2"/>
<text transform="translate(234.4,296.6) scale(1.0,1)" font-size="10.2" fill="#111" stroke="#111" stroke-width="0.12">WT</text>
<text transform="translate(235.3,309.4) scale(1.0,1)" font-size="10.2" fill="#111" stroke="#111" stroke-width="0.12">ESL-1<tspan font-size="0.66em" dy="-0.47em">–/–</tspan></text>
<text transform="translate(291.6,296.2) scale(1.0,1)" font-size="10.2" fill="#111" stroke="#111" stroke-width="0.12">PSGL-1<tspan font-size="0.66em" dy="-0.47em">–/–</tspan></text>
<text transform="translate(291.6,308.4) scale(1.0,1)" font-size="10.2" fill="#111" stroke="#111" stroke-width="0.12">DKO</text>
<line x1="397.2" y1="332.6" x2="397.2" y2="445.1" stroke="#111" stroke-width="1.3"/>
<line x1="394.59999999999997" y1="444.5" x2="397.2" y2="444.5" stroke="#111" stroke-width="1.3"/>
<text transform="translate(392.6,447.9) scale(1.0,1)" font-size="11.3" text-anchor="end" fill="#111" stroke="#111" stroke-width="0.12">0.0</text>
<line x1="394.59999999999997" y1="422.22" x2="397.2" y2="422.22" stroke="#111" stroke-width="1.3"/>
<text transform="translate(392.6,425.62) scale(1.0,1)" font-size="11.3" text-anchor="end" fill="#111" stroke="#111" stroke-width="0.12">0.5</text>
<line x1="394.59999999999997" y1="399.94" x2="397.2" y2="399.94" stroke="#111" stroke-width="1.3"/>
<text transform="translate(392.6,403.34) scale(1.0,1)" font-size="11.3" text-anchor="end" fill="#111" stroke="#111" stroke-width="0.12">1.0</text>
<line x1="394.59999999999997" y1="377.65999999999997" x2="397.2" y2="377.65999999999997" stroke="#111" stroke-width="1.3"/>
<text transform="translate(392.6,381.06) scale(1.0,1)" font-size="11.3" text-anchor="end" fill="#111" stroke="#111" stroke-width="0.12">1.5</text>
<line x1="394.59999999999997" y1="355.38" x2="397.2" y2="355.38" stroke="#111" stroke-width="1.3"/>
<text transform="translate(392.6,358.78) scale(1.0,1)" font-size="11.3" text-anchor="end" fill="#111" stroke="#111" stroke-width="0.12">2.0</text>
<line x1="394.59999999999997" y1="333.1" x2="397.2" y2="333.1" stroke="#111" stroke-width="1.3"/>
<text transform="translate(392.6,336.5) scale(1.0,1)" font-size="11.3" text-anchor="end" fill="#111" stroke="#111" stroke-width="0.12">2.5</text>
<line x1="397.2" y1="444.5" x2="501" y2="444.5" stroke="#111" stroke-width="1.3"/>
<line x1="501" y1="444.5" x2="501" y2="447.5" stroke="#111" stroke-width="1.2"/>
<rect x="401.5" y="352.3" width="13.9" height="92.19999999999999" fill="#b5b5b5" stroke="#111" stroke-width="1.2"/>
<line x1="404.28" y1="351.90000000000003" x2="412.62" y2="351.90000000000003" stroke="#111" stroke-width="1.2"/>
<rect x="415.4" y="394.3" width="13.9" height="50.19999999999999" fill="#6868d8" stroke="#111" stroke-width="1.2"/>
<line x1="418.17999999999995" y1="393.90000000000003" x2="426.52" y2="393.90000000000003" stroke="#111" stroke-width="1.2"/>
<rect x="435.4" y="350.5" width="14.3" height="94.0" fill="#b5b5b5" stroke="#111" stroke-width="1.2"/>
<line x1="438.26" y1="350.1" x2="446.84" y2="350.1" stroke="#111" stroke-width="1.2"/>
<rect x="449.7" y="393.3" width="13.6" height="51.19999999999999" fill="#6868d8" stroke="#111" stroke-width="1.2"/>
<line x1="452.42" y1="392.90000000000003" x2="460.58" y2="392.90000000000003" stroke="#111" stroke-width="1.2"/>
<rect x="470.3" y="344.6" width="14.3" height="99.89999999999998" fill="#b5b5b5" stroke="#111" stroke-width="1.2"/>
<line x1="473.16" y1="344.20000000000005" x2="481.74" y2="344.20000000000005" stroke="#111" stroke-width="1.2"/>
<rect x="484.6" y="350.5" width="13.1" height="94.0" fill="#6868d8" stroke="#111" stroke-width="1.2"/>
<line x1="487.22" y1="350.1" x2="495.08000000000004" y2="350.1" stroke="#111" stroke-width="1.2"/>
<line x1="488.5" y1="349.4" x2="494.5" y2="349.4" stroke="#555" stroke-width="1.0"/>
<polyline points="406.60,343.00 406.60,340.00 422.30,340.00 422.30,343.00" fill="none" stroke="#111" stroke-width="1.1" stroke-linejoin="round"/>
<text transform="translate(413.8,340.2) scale(1.12,1)" font-size="11" text-anchor="middle" fill="#111" stroke="#111" stroke-width="0.12">***</text>
<polyline points="442.30,343.00 442.30,340.00 457.40,340.00 457.40,343.00" fill="none" stroke="#111" stroke-width="1.1" stroke-linejoin="round"/>
<text transform="translate(450.0,340.2) scale(1.12,1)" font-size="11" text-anchor="middle" fill="#111" stroke="#111" stroke-width="0.12">***</text>
<polyline points="476.50,337.60 476.50,334.60 492.30,334.60 492.30,337.60" fill="none" stroke="#111" stroke-width="1.1" stroke-linejoin="round"/>
<text transform="translate(484.6,328.3) scale(1.0,1)" font-size="10.3" text-anchor="middle" fill="#111" stroke="#111" stroke-width="0.12">n.s.</text>
<text transform="translate(414.4,457.6) scale(1.0,1)" font-size="10.8" text-anchor="middle" fill="#111" stroke="#111" stroke-width="0.12">WT</text>
<text transform="translate(430.0,457.6) scale(1.0,1)" font-size="10.8" fill="#111" stroke="#111" stroke-width="0.12">ESL-1<tspan font-size="0.66em" dy="-0.47em">–/–</tspan></text>
<text transform="translate(473.4,457.6) scale(1.0,1)" font-size="10.8" fill="#111" stroke="#111" stroke-width="0.12">PSGL-1<tspan font-size="0.66em" dy="-0.47em">–/–</tspan></text>
<text transform="translate(365.5,387.2) rotate(-90) scale(1.0,1)" font-size="11.8" text-anchor="middle" fill="#111" stroke="#111" stroke-width="0.12">Rolling velocity (μm/s)</text>
<rect x="396.3" y="288.0" width="9.8" height="8.8" fill="#c2c2c2" stroke="#111" stroke-width="1.2"/>
<rect x="396.3" y="301.5" width="9.8" height="9.2" fill="#6868d8" stroke="#111" stroke-width="1.2"/>
<text transform="translate(408.2,296.0) scale(1.0,1)" font-size="10.2" fill="#111" stroke="#111" stroke-width="0.12">E-selectin</text>
<text transform="translate(408.8,310.1) scale(1.0,1)" font-size="10.2" fill="#111" stroke="#111" stroke-width="0.12">E-selectin + ICAM-1</text>
</svg>
</body></html>
